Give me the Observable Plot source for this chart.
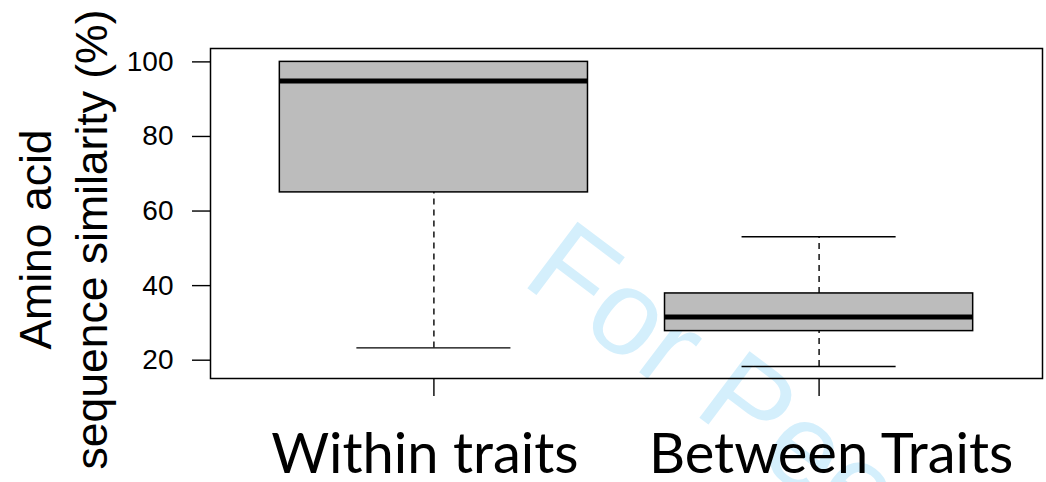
<!DOCTYPE html>
<html>
<head>
<meta charset="utf-8">
<script src="https://cdn.jsdelivr.net/npm/d3@7"></script>
<script src="https://cdn.jsdelivr.net/npm/@observablehq/plot@0.6"></script>
<style>
  html, body { margin: 0; padding: 0; background: #fff; overflow: hidden; }
  #chart { width: 1046px; height: 482px; }
</style>
</head>
<body>
<div id="chart"></div>
<script>
// ---- data ----
const categories = ["Within traits", "Between Traits"];
const positions = [1, 2];
const lowerWhisker = [23.3, 18.3];
const lowerQuartile = [65.0, 27.8];
const medians = [94.9, 31.6];
const upperQuartile = [100.0, 37.9];
const upperWhisker = [100.0, 53.1];
const yTicks = [20, 40, 60, 80, 100];
const yTitle = "Amino acid\nsequence similarity (%)";
const watermark = ["For Peer Review"];

const rows = categories.map((c, i) => ({
  category: c,
  pos: positions[i],
  lo: lowerWhisker[i],
  q1: lowerQuartile[i],
  med: medians[i],
  q3: upperQuartile[i],
  hi: upperWhisker[i]
}));

const boxHalf = 0.4, capHalf = 0.2;
const dash = "6,5";
const labelFont = "Lato, 'Open Sans', sans-serif";
const sans = "Liberation Sans, Arial, sans-serif";

const chart = Plot.plot({
  width: 1046,
  height: 482,
  marginLeft: 210,
  marginRight: 4,
  marginTop: 48,
  marginBottom: 104,
  style: { background: "white", color: "black", fontFamily: sans, overflow: "hidden" },
  x: { type: "linear", domain: [0.42, 2.58], axis: null },
  y: { domain: [15.09, 103.59], axis: null },
  marks: [
    // watermark (behind everything)
    Plot.text(watermark, {
      x: () => 1.283, y: () => 49.2, text: d => d,
      rotate: 37, textAnchor: "start", lineAnchor: "middle",
      fontSize: 121, fontFamily: sans, fill: "#d4effc"
    }),
    // whiskers (dashed)
    Plot.ruleX(rows, { x: "pos", y1: "q3", y2: "hi", stroke: "black", strokeWidth: 1.4, strokeDasharray: dash }),
    Plot.ruleX(rows, { x: "pos", y1: "lo", y2: "q1", stroke: "black", strokeWidth: 1.4, strokeDasharray: dash }),
    // whisker caps
    Plot.ruleY(rows, { y: "hi", x1: d => d.pos - capHalf, x2: d => d.pos + capHalf, stroke: "black", strokeWidth: 1.4 }),
    Plot.ruleY(rows, { y: "lo", x1: d => d.pos - capHalf, x2: d => d.pos + capHalf, stroke: "black", strokeWidth: 1.4 }),
    // boxes
    Plot.rect(rows, { x1: d => d.pos - boxHalf, x2: d => d.pos + boxHalf, y1: "q1", y2: "q3", fill: "#bcbcbc", stroke: "black", strokeWidth: 1.5 }),
    // medians
    Plot.ruleY(rows, { y: "med", x1: d => d.pos - boxHalf, x2: d => d.pos + boxHalf, stroke: "black", strokeWidth: 5 }),
    // frame
    Plot.frame({ stroke: "black", strokeWidth: 1.5 }),
    // y axis
    Plot.axisY({ ticks: yTicks, tickSize: 18, tickPadding: 19, fontSize: 28, fontFamily: sans, strokeWidth: 1.4, label: null }),
    // x axis tick lines
    Plot.axisX({ ticks: positions, tickFormat: () => "", tickSize: 18, strokeWidth: 1.4, label: null }),
    // x category labels (slightly offset as in the reference)
    Plot.text(rows, {
      filter: d => d.pos === positions[0], x: "pos", text: "category", frameAnchor: "bottom",
      dx: -9, dy: 55, lineAnchor: "top", fontSize: 56, fontFamily: labelFont, fill: "black"
    }),
    Plot.text(rows, {
      filter: d => d.pos === positions[1], x: "pos", text: "category", frameAnchor: "bottom",
      dx: 12, dy: 55, lineAnchor: "top", fontSize: 56, fontFamily: labelFont, fill: "black"
    }),
    // y title
    Plot.text([yTitle], {
      text: d => d, frameAnchor: "left", rotate: -90, dx: -200, dy: 26,
      textAnchor: "middle", lineAnchor: "top", lineHeight: 1.27,
      fontSize: 44.5, fontFamily: sans, fill: "black"
    })
  ]
});
document.getElementById("chart").appendChild(chart);
</script>
</body>
</html>
